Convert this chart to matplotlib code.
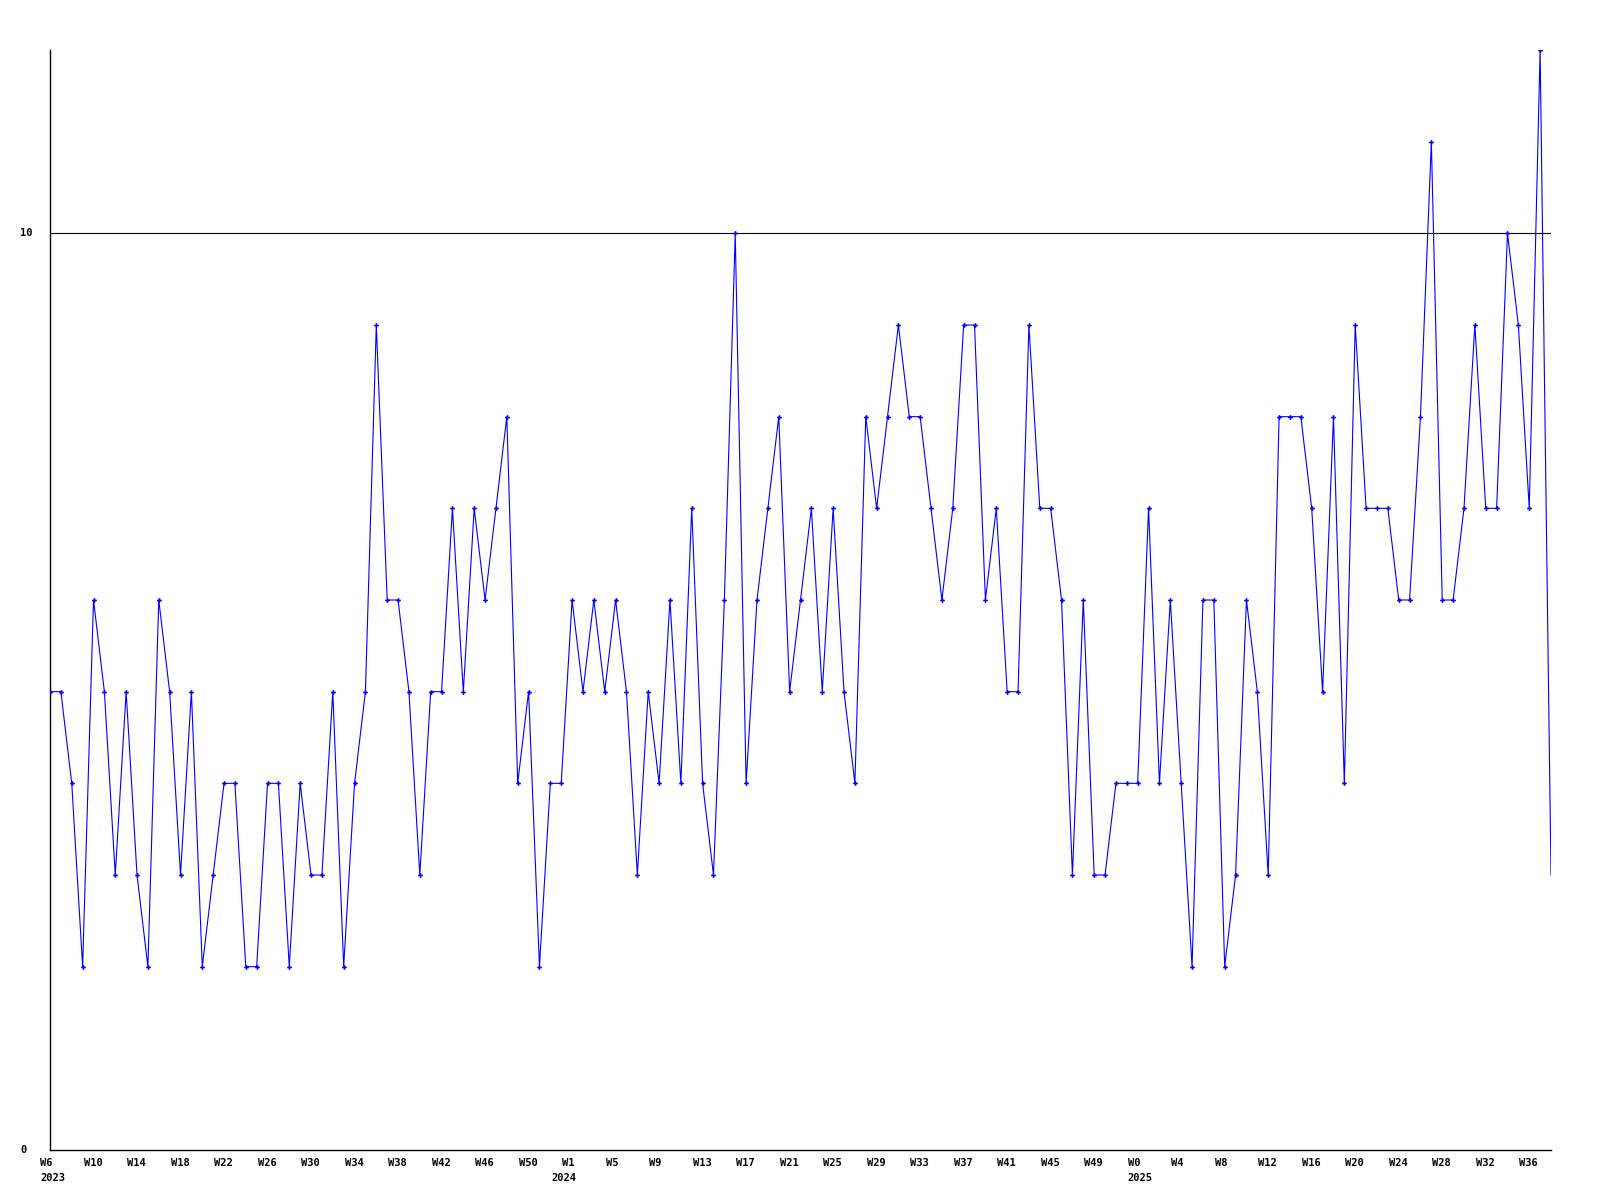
import matplotlib
matplotlib.use("Agg")
import matplotlib.pyplot as plt
import matplotlib.transforms as mtransforms

# weekly counts, 2023 W6 .. 2025 W38 (last value is the open week)
counts = [
    5, 5, 4, 2, 6, 5, 3, 5, 3, 2, 6, 5, 3, 5, 2, 3, 4, 4, 2, 2, 4, 4, 2, 4,
    3, 3, 5, 2, 4, 5, 9, 6, 6, 5, 3, 5, 5, 7, 5, 7, 6, 7, 8, 4, 5, 2, 4,
    4, 6, 5, 6, 5, 6, 5, 3, 5, 4, 6, 4, 7, 4, 3, 6, 10, 4, 6, 7, 8, 5, 6,
    7, 5, 7, 5, 4, 8, 7, 8, 9, 8, 8, 7, 6, 7, 9, 9, 6, 7, 5, 5, 9, 7, 7,
    6, 3, 6, 3, 3, 4, 4, 4, 7, 4, 6, 4, 2, 6, 6, 2, 3, 6, 5, 3, 8, 8, 8,
    7, 5, 8, 4, 9, 7, 7, 7, 6, 6, 8, 11, 6, 6, 7, 9, 7, 7, 10, 9, 7, 12,
    3,
]
week_labels = [
    "W6", "W10", "W14", "W18", "W22", "W26", "W30", "W34", "W38", "W42", "W46", "W50",
    "W1", "W5", "W9", "W13", "W17", "W21", "W25", "W29", "W33", "W37", "W41", "W45", "W49",
    "W0", "W4", "W8", "W12", "W16", "W20", "W24", "W28", "W32", "W36",
]
week_step = 4
year_labels = ["2023", "2024", "2025"]
year_index = [0, 47, 100]
y_ticks = [0, 10]

x = list(range(len(counts)))

fig = plt.figure(figsize=(16, 12), dpi=100)
ax = fig.add_axes([50 / 1600, 50 / 1200, 1501 / 1600, 1100 / 1200])

ax.axhline(10, color="black", lw=0.8, zorder=1)
ax.plot(x, counts, color="#0000ff", lw=0.8, zorder=3)
ax.plot(x[:-1], counts[:-1], ls="none", marker="P", ms=3.4, mew=0, color="#0000ff", zorder=4)

ax.set_xlim(0, len(counts) - 1)
ax.set_ylim(0, 12)
for s in ["top", "right"]:
    ax.spines[s].set_visible(False)
for s in ["left", "bottom"]:
    ax.spines[s].set_linewidth(1.0)
    ax.spines[s].set_color("black")

ax.set_xticks([])
ax.set_yticks([])

font = dict(family="DejaVu Sans Mono", weight="bold", fontsize=7.5, color="black")
px = fig.dpi_scale_trans

# week labels under the axis
for i, lab in enumerate(week_labels):
    tr = ax.get_xaxis_transform() + mtransforms.ScaledTranslation(-10 / 100, -8 / 100, px)
    ax.text(i * week_step, 0, lab, transform=tr, ha="left", va="top", **font)

for idx, lab in zip(year_index, year_labels):
    tr = ax.get_xaxis_transform() + mtransforms.ScaledTranslation(-10 / 100, -23 / 100, px)
    ax.text(idx, 0, lab, transform=tr, ha="left", va="top", **font)

# y labels, left aligned at the figure edge
for v in y_ticks:
    tr = ax.get_yaxis_transform() + mtransforms.ScaledTranslation(-30 / 100, 0, px)
    ax.text(0, v, str(v), transform=tr, ha="left", va="center", **font)

fig.savefig("out.png", dpi=100, facecolor="white")
